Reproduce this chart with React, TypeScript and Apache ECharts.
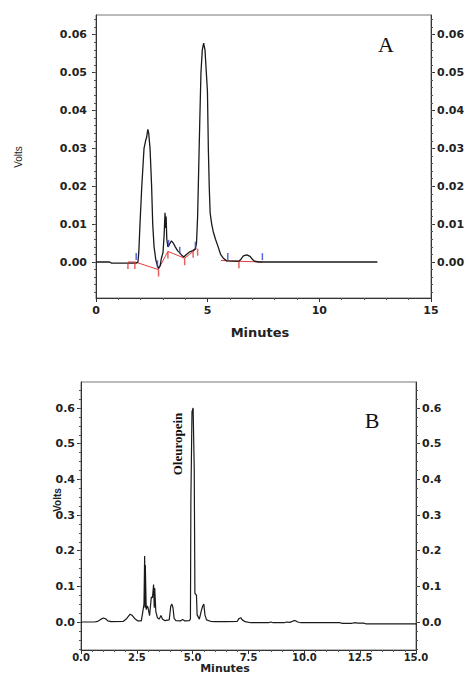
import React, { useEffect, useRef } from "react";
import * as echarts from "echarts";

// ---------- Chart A data ----------
const timeA = [0, 0.6, 0.7, 1.8, 1.88, 1.92, 1.97, 2.05, 2.15, 2.22, 2.27, 2.32, 2.36, 2.42, 2.49, 2.54, 2.6, 2.68, 2.79, 2.87, 2.93, 3.0, 3.05, 3.09, 3.12, 3.14, 3.17, 3.22, 3.3, 3.38, 3.46, 3.55, 3.65, 3.75, 3.85, 3.93, 4.05, 4.2, 4.33, 4.45, 4.5, 4.55, 4.6, 4.65, 4.7, 4.76, 4.82, 4.88, 4.94, 4.99, 5.03, 5.07, 5.11, 5.18, 5.25, 5.35, 5.47, 5.58, 5.7, 5.85, 6.4, 6.5, 6.6, 6.75, 6.9, 7.0, 7.1, 7.3, 12.6];
const voltsA = [0, 0, -0.0003, -0.0003, 0, 0.003, 0.01, 0.02, 0.03, 0.032, 0.033, 0.035, 0.034, 0.03, 0.02, 0.01, 0.004, 0.0005, -0.0017, -0.001, 0.001, 0.0025, 0.007, 0.013, 0.009, 0.012, 0.006, 0.004, 0.0048, 0.0056, 0.005, 0.004, 0.003, 0.0024, 0.0017, 0.0013, 0.002, 0.0027, 0.003, 0.0035, 0.005, 0.012, 0.025, 0.038, 0.05, 0.056, 0.0578, 0.056, 0.05, 0.045, 0.03, 0.02, 0.013, 0.01, 0.008, 0.006, 0.004, 0.002, 0.001, 0.0003, 0.0002, 0.0008, 0.0016, 0.0019, 0.0015, 0.0007, 0.0002, 0, 0];

const baseTimeA = [1.43, 1.76, 2.79, 3.22, 3.97, 4.5, null, 5.6, 6.4, 7.45];
const baseVoltsA = [0, 0, -0.002, 0.0028, 0.001, 0.0035, null, 0.0004, 0.0002, 0];

const redMarkTimeA = [1.43, 1.74, 2.8, 3.22, 3.97, 4.35, 4.55, 6.4];
const redMarkVoltsA = [0, 0, -0.002, 0.0028, 0.001, 0.003, 0.0035, 0.0002];
const blueMarkTimeA = [1.8, 2.75, 3.25, 3.75, 4.45, 5.9, 7.45];
const blueMarkVoltsA = [0.0005, -0.0014, 0.004, 0.0022, 0.0035, 0.0005, 0.0005];

// ---------- Chart B data ----------
const timeB = [0, 0.6, 0.75, 0.9, 1.0, 1.1, 1.2, 1.35, 1.9, 2.05, 2.2, 2.3, 2.4, 2.55, 2.7, 2.77, 2.82, 2.85, 2.87, 2.88, 2.92, 2.97, 3.0, 3.07, 3.15, 3.2, 3.25, 3.28, 3.3, 3.35, 3.42, 3.5, 3.58, 3.65, 3.75, 3.95, 4.02, 4.07, 4.12, 4.17, 4.25, 4.45, 4.55, 4.65, 4.85, 4.9, 4.92, 4.97, 5.02, 5.07, 5.1, 5.17, 5.2, 5.3, 5.38, 5.45, 5.5, 5.55, 5.62, 5.8, 6.0, 6.5, 7.0, 7.08, 7.15, 7.22, 7.35, 7.6, 8.4, 8.5, 8.6, 9.1, 9.2, 9.35, 9.5, 9.58, 9.7, 9.85, 11.6, 11.7, 12.1, 12.25, 12.4, 12.65, 12.75, 15.0];
const voltsB = [0, 0, 0.002, 0.008, 0.011, 0.009, 0.003, 0.001, 0.002, 0.01, 0.022, 0.018, 0.01, 0.003, 0.003, 0.03, 0.05, 0.185, 0.04, 0.16, 0.035, 0.045, 0.04, 0.018, 0.07, 0.068, 0.105, 0.04, 0.095, 0.03, 0.012, 0.008, 0.018, 0.008, 0.004, 0.006, 0.045, 0.05, 0.04, 0.01, 0.004, 0.003, 0.007, 0.003, 0.004, 0.008, 0.34, 0.59, 0.6, 0.43, 0.08, 0.075, 0.02, 0.008, 0.03, 0.045, 0.05, 0.02, 0.006, 0.002, 0.001, 0.001, 0.002, 0.01, 0.012, 0.006, 0.001, -0.002, -0.002, 0, -0.002, -0.002, 0, -0.001, 0.003, 0.004, 0, -0.002, -0.002, -0.004, -0.004, -0.002, -0.003, -0.003, -0.005, -0.005];

// ---------- Axis ticks ----------
const xTickStepA = 5;
const xTickStepB = 2.5;
const yTicksA = [0, 0.01, 0.02, 0.03, 0.04, 0.05, 0.06];
const yTicksB = [0, 0.1, 0.2, 0.3, 0.4, 0.5, 0.6];
const yMinorStepA = 0.002;
const yMinorStepB = 0.025;

const Y_MIN_A = -0.0095;
const Y_MAX_A = 0.0652;
const Y_MIN_B = -0.0785;
const Y_MAX_B = 0.673;

function minorList(min: number, max: number, step: number) {
  const out: number[] = [];
  const start = Math.ceil(min / step - 1e-9);
  const end = Math.floor(max / step + 1e-9);
  for (let k = start; k <= end; k++) out.push(+(k * step).toFixed(6));
  return out;
}

const zip = (xs: (number | null)[], ys: (number | null)[]) =>
  xs.map((x, i) => (x === null ? [null, null] : [x, ys[i]]));

export default function App() {
  const ref = useRef<HTMLDivElement>(null);

  useEffect(() => {
    if (!ref.current) return;
    const chart = echarts.init(ref.current, undefined, { renderer: "svg" });

    const axisFont = {
      fontFamily: "DejaVu Sans",
      fontWeight: "bold" as const,
      fontSize: 11,
      color: "#222",
    };
    const axisLineStyle = { color: "#333", width: 1 };

    const yMajor = (grid: number, pos: string, min: number, max: number, vals: number[], digits: number, margin: number) => ({
      type: "value",
      gridIndex: grid,
      position: pos,
      min,
      max,
      axisLine: { show: true, onZero: false, lineStyle: axisLineStyle },
      axisTick: { show: true, length: 4, customValues: vals, lineStyle: axisLineStyle },
      axisLabel: { ...axisFont, margin, customValues: vals, formatter: (v: number) => v.toFixed(digits) },
      splitLine: { show: false },
    });
    const yMinor = (grid: number, pos: string, min: number, max: number, vals: number[]) => ({
      type: "value",
      gridIndex: grid,
      position: pos,
      min,
      max,
      axisLine: { show: false },
      axisTick: { show: true, length: 2, customValues: vals, lineStyle: { color: "#555", width: 1 } },
      axisLabel: { show: false },
      splitLine: { show: false },
    });

    const minorA = minorList(Y_MIN_A, Y_MAX_A, yMinorStepA);
    const minorB = minorList(Y_MIN_B, Y_MAX_B, yMinorStepB);

    const option: any = {
      animation: false,
      backgroundColor: "#fff",
      grid: [
        { left: 96, top: 15, width: 335, height: 283, show: true, borderColor: "#777", borderWidth: 1, backgroundColor: "transparent" },
        { left: 81, top: 382, width: 335, height: 268, show: true, borderColor: "#777", borderWidth: 1, backgroundColor: "transparent" },
      ],
      xAxis: [
        {
          type: "value",
          gridIndex: 0,
          min: 0,
          max: 15,
          interval: xTickStepA,
          axisLine: { show: true, onZero: false, lineStyle: axisLineStyle },
          axisTick: { show: true, length: 4, lineStyle: axisLineStyle },
          minorTick: { show: true, splitNumber: 5, length: 2, lineStyle: { color: "#555" } },
          axisLabel: { ...axisFont, margin: 7, formatter: (v: number) => String(v) },
          splitLine: { show: false },
        },
        {
          type: "value",
          gridIndex: 1,
          min: 0,
          max: 15,
          interval: xTickStepB,
          axisLine: { show: true, onZero: false, lineStyle: axisLineStyle },
          axisTick: { show: true, length: 4, lineStyle: axisLineStyle },
          minorTick: { show: true, splitNumber: 5, length: 2, lineStyle: { color: "#555" } },
          axisLabel: { ...axisFont, fontSize: 10, lineHeight: 10, margin: 2, formatter: (v: number) => v.toFixed(1) },
          splitLine: { show: false },
        },
      ],
      yAxis: [
        yMajor(0, "left", Y_MIN_A, Y_MAX_A, yTicksA, 2, 9),
        yMajor(0, "right", Y_MIN_A, Y_MAX_A, yTicksA, 2, 6),
        yMinor(0, "left", Y_MIN_A, Y_MAX_A, minorA),
        yMinor(0, "right", Y_MIN_A, Y_MAX_A, minorA),
        yMajor(1, "left", Y_MIN_B, Y_MAX_B, yTicksB, 1, 6),
        yMajor(1, "right", Y_MIN_B, Y_MAX_B, yTicksB, 1, 6),
        yMinor(1, "left", Y_MIN_B, Y_MAX_B, minorB),
        yMinor(1, "right", Y_MIN_B, Y_MAX_B, minorB),
      ],
      series: [
        {
          type: "line",
          xAxisIndex: 0,
          yAxisIndex: 1,
          data: zip(baseTimeA, baseVoltsA),
          showSymbol: false,
          connectNulls: false,
          lineStyle: { color: "#e23a3a", width: 1 },
          z: 2,
        },
        {
          type: "line",
          xAxisIndex: 0,
          yAxisIndex: 0,
          data: zip(timeA, voltsA),
          showSymbol: false,
          lineStyle: { color: "#1a1a1a", width: 1.3 },
          z: 3,
        },
        {
          type: "scatter",
          xAxisIndex: 0,
          yAxisIndex: 0,
          data: zip(redMarkTimeA, redMarkVoltsA),
          symbol: "rect",
          symbolSize: [1.5, 7],
          symbolOffset: [0, 3.5],
          itemStyle: { color: "#e23a3a" },
          z: 4,
        },
        {
          type: "scatter",
          xAxisIndex: 0,
          yAxisIndex: 0,
          data: zip(blueMarkTimeA, blueMarkVoltsA),
          symbol: "rect",
          symbolSize: [1.5, 7],
          symbolOffset: [0, -3.5],
          itemStyle: { color: "#3344cc" },
          z: 4,
        },
        {
          type: "line",
          xAxisIndex: 1,
          yAxisIndex: 4,
          data: zip(timeB, voltsB),
          showSymbol: false,
          lineStyle: { color: "#1a1a1a", width: 1.2 },
          z: 3,
        },
      ],
      graphic: [
        { type: "text", x: 386, y: 44, style: { text: "A", font: "22px 'Liberation Serif'", fill: "#111", textAlign: "center", textVerticalAlign: "middle" } },
        { type: "text", x: 372, y: 420, style: { text: "B", font: "22px 'Liberation Serif'", fill: "#111", textAlign: "center", textVerticalAlign: "middle" } },
        { type: "text", x: 177, y: 444, rotation: Math.PI / 2, style: { text: "Oleuropein", font: "bold 13px 'Liberation Serif'", fill: "#111", textAlign: "center", textVerticalAlign: "middle" } },
        { type: "text", x: 18, y: 157, rotation: Math.PI / 2, style: { text: "Volts", font: "10px 'Liberation Sans'", fill: "#222", textAlign: "center", textVerticalAlign: "middle" } },
        { type: "text", x: 57, y: 500, rotation: Math.PI / 2, style: { text: "Volts", font: "bold 10px 'Liberation Sans'", fill: "#222", textAlign: "center", textVerticalAlign: "middle" } },
        { type: "text", x: 260, y: 332, style: { text: "Minutes", font: "bold 13px 'DejaVu Sans'", fill: "#222", textAlign: "center", textVerticalAlign: "middle" } },
        { type: "text", x: 225, y: 668, style: { text: "Minutes", font: "bold 11px 'DejaVu Sans'", fill: "#222", textAlign: "center", textVerticalAlign: "middle" } },
      ],
    };

    chart.setOption(option);
    return () => chart.dispose();
  }, []);

  return (
    <div
      ref={ref}
      style={{ position: "fixed", left: 0, top: 0, width: 469, height: 673, background: "#fff" }}
    />
  );
}
